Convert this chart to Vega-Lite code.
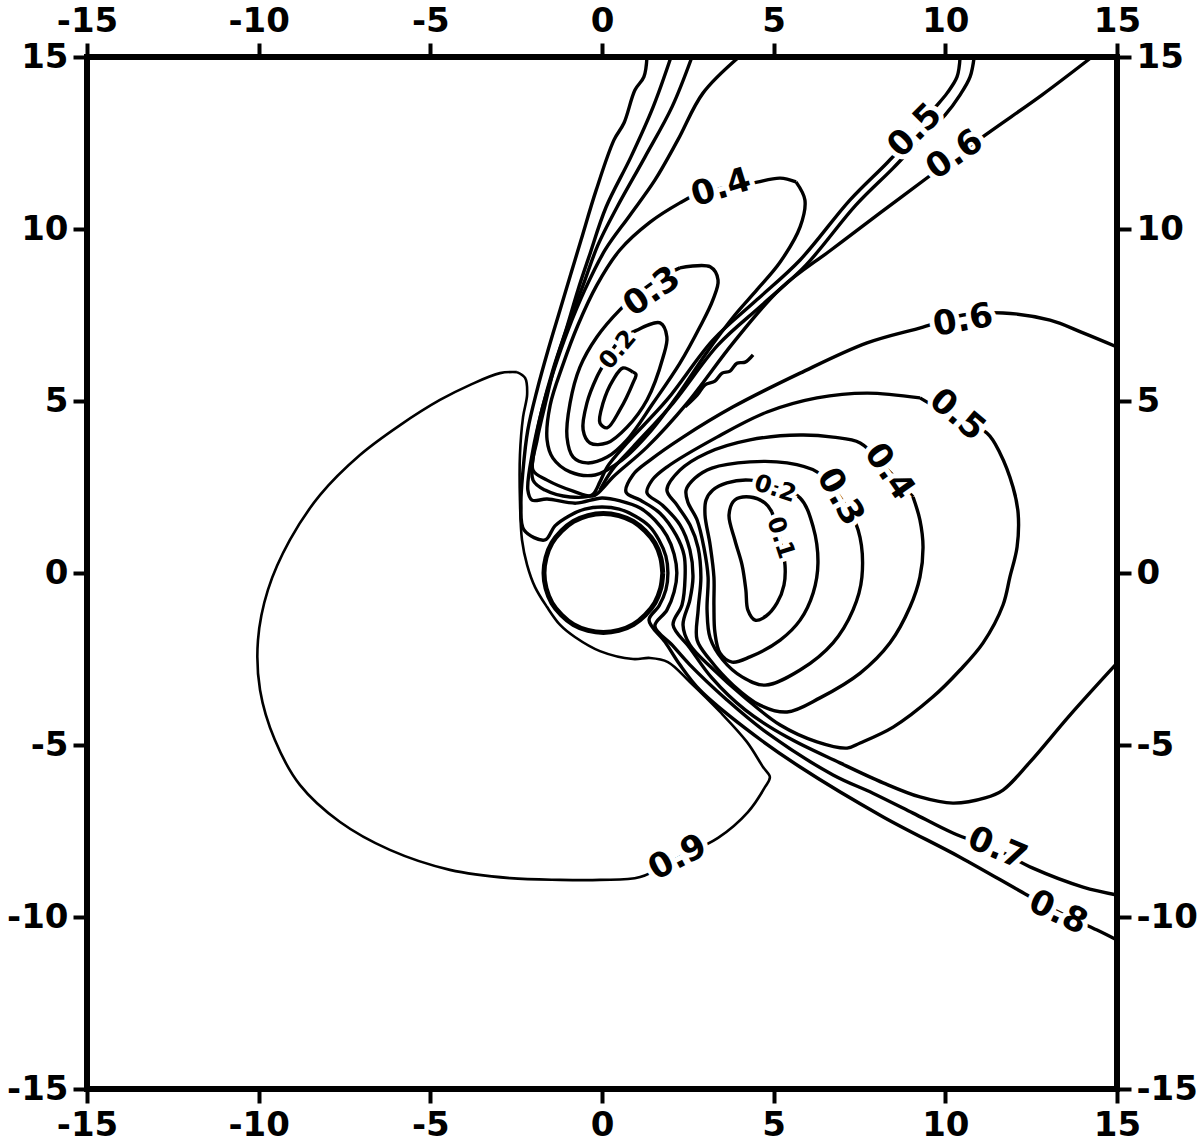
{
"$schema": "https://vega.github.io/schema/vega-lite/v6.json",
"autosize": {"type": "none"},
"width": 1030, "height": 1032,
"padding": {"left": 87, "top": 57, "right": 83, "bottom": 53},
"background": "white",
"datasets": {
"circle": [
{"x":1.77,"y":0},{"x":1.71,"y":0.45},{"x":1.54,"y":0.87},{"x":1.26,"y":1.22},{"x":0.91,"y":1.50},{"x":0.49,"y":1.67},{"x":0.04,"y":1.73},{"x":-0.41,"y":1.67},{"x":-0.83,"y":1.50},{"x":-1.18,"y":1.22},{"x":-1.46,"y":0.87},{"x":-1.63,"y":0.45},{"x":-1.69,"y":0},{"x":-1.63,"y":-0.45},{"x":-1.46,"y":-0.87},{"x":-1.18,"y":-1.22},{"x":-0.83,"y":-1.50},{"x":-0.41,"y":-1.67},{"x":0.04,"y":-1.73},{"x":0.49,"y":-1.67},{"x":0.91,"y":-1.50},{"x":1.26,"y":-1.22},{"x":1.54,"y":-0.87},{"x":1.71,"y":-0.45},{"x":1.77,"y":0}
],
"n9": [
{"x":-2.48,"y":5.84},{"x":-2.97,"y":5.81},{"x":-3.84,"y":5.47},{"x":-4.72,"y":5.03},{"x":-5.88,"y":4.30},{"x":-7.05,"y":3.43},{"x":-8.21,"y":2.27},{"x":-9.09,"y":0.96},{"x":-9.73,"y":-0.49},{"x":-10.02,"y":-1.95},{"x":-9.96,"y":-3.40},{"x":-9.53,"y":-4.85},{"x":-8.80,"y":-6.16},{"x":-7.63,"y":-7.24},{"x":-6.18,"y":-8.05},{"x":-4.43,"y":-8.63},{"x":-2.68,"y":-8.87},{"x":-1.22,"y":-8.92},{"x":-0.06,"y":-8.92},{"x":1.11,"y":-8.84},{"x":2.21,"y":-8.28},{"x":3.38,"y":-7.70},{"x":4.25,"y":-6.95},{"x":4.75,"y":-6.22},{"x":4.89,"y":-5.93},{"x":4.69,"y":-5.64},{"x":4.22,"y":-4.91},{"x":3.44,"y":-4.04},{"x":2.56,"y":-3.17},{"x":1.92,"y":-2.59},{"x":1.40,"y":-2.47},{"x":0.90,"y":-2.50},{"x":-0.06,"y":-2.27},{"x":-0.79,"y":-1.86},{"x":-1.22,"y":-1.51},{"x":-1.60,"y":-0.99},{"x":-1.95,"y":-0.41},{"x":-2.18,"y":0.23},{"x":-2.33,"y":0.96},{"x":-2.39,"y":2.12},{"x":-2.39,"y":3.43},{"x":-2.30,"y":4.53},{"x":-2.18,"y":5.20},{"x":-2.24,"y":5.67},{"x":-2.48,"y":5.84}
],
"contours": [
{"c":"n8","x":1.31,"y":15.0},{"c":"n8","x":1.22,"y":14.42},{"c":"n8","x":0.96,"y":14.04},{"c":"n8","x":0.64,"y":13.08},{"c":"n8","x":0.35,"y":12.59},{"c":"n8","x":-0.17,"y":11.13},{"c":"n8","x":-0.61,"y":9.68},{"c":"n8","x":-0.90,"y":8.72},{"c":"n8","x":-1.22,"y":7.65},{"c":"n8","x":-1.57,"y":6.48},{"c":"n8","x":-1.89,"y":5.32},{"c":"n8","x":-2.16,"y":4.16},{"c":"n8","x":-2.30,"y":2.99},{"c":"n8","x":-2.36,"y":1.98},{"c":"n8","x":-2.27,"y":1.25},{"c":"n8","x":-1.66,"y":0.96},{"c":"n8","x":-1.37,"y":1.37},{"c":"n8","x":-0.96,"y":1.66},{"c":"n8","x":-0.50,"y":1.86},{"c":"n8","x":0.0,"y":1.92},{"c":"n8","x":0.50,"y":1.86},{"c":"n8","x":0.96,"y":1.66},{"c":"n8","x":1.37,"y":1.37},{"c":"n8","x":1.66,"y":0.96},{"c":"n8","x":1.86,"y":0.49},{"c":"n8","x":1.92,"y":0.0},{"c":"n8","x":1.86,"y":-0.49},{"c":"n8","x":1.66,"y":-0.96},{"c":"n8","x":1.37,"y":-1.37},{"c":"n8","x":1.84,"y":-2.01},{"c":"n8","x":2.27,"y":-2.67},{"c":"n8","x":2.85,"y":-3.40},{"c":"n8","x":4.17,"y":-4.51},{"c":"n8","x":5.77,"y":-5.64},{"c":"n8","x":8.19,"y":-7.09},{"c":"n8","x":10.43,"y":-8.26},{"c":"n8","x":12.38,"y":-9.36},{"c":"n8","x":13.34,"y":-9.88},{"c":"n8","x":14.42,"y":-10.38},{"c":"n8","x":15.0,"y":-10.67},
{"c":"n7","x":2.01,"y":15.0},{"c":"n7","x":1.49,"y":13.55},{"c":"n7","x":0.84,"y":12.09},{"c":"n7","x":0.12,"y":10.64},{"c":"n7","x":-0.38,"y":9.19},{"c":"n7","x":-0.70,"y":8.23},{"c":"n7","x":-1.05,"y":7.06},{"c":"n7","x":-1.43,"y":5.90},{"c":"n7","x":-1.75,"y":4.74},{"c":"n7","x":-2.01,"y":3.58},{"c":"n7","x":-2.16,"y":2.41},{"c":"n7","x":-2.04,"y":2.12},{"c":"n7","x":-1.60,"y":2.15},{"c":"n7","x":-0.76,"y":2.03},{"c":"n7","x":0.0,"y":2.18},{"c":"n7","x":0.55,"y":2.09},{"c":"n7","x":1.11,"y":1.89},{"c":"n7","x":1.54,"y":1.54},{"c":"n7","x":1.89,"y":1.08},{"c":"n7","x":2.10,"y":0.55},{"c":"n7","x":2.18,"y":0.0},{"c":"n7","x":2.10,"y":-0.55},{"c":"n7","x":1.89,"y":-1.08},{"c":"n7","x":1.54,"y":-1.54},{"c":"n7","x":2.04,"y":-2.09},{"c":"n7","x":2.56,"y":-2.67},{"c":"n7","x":3.64,"y":-3.69},{"c":"n7","x":4.81,"y":-4.65},{"c":"n7","x":6.73,"y":-5.87},{"c":"n7","x":7.89,"y":-6.40},{"c":"n7","x":9.06,"y":-6.98},{"c":"n7","x":10.22,"y":-7.56},{"c":"n7","x":11.51,"y":-8.05},{"c":"n7","x":12.55,"y":-8.58},{"c":"n7","x":14.01,"y":-9.13},{"c":"n7","x":15.0,"y":-9.36},
{"c":"v6","x":2.62,"y":15.0},{"c":"v6","x":2.04,"y":13.55},{"c":"v6","x":1.25,"y":12.09},{"c":"v6","x":0.44,"y":10.64},{"c":"v6","x":-0.12,"y":9.53},{"c":"v6","x":-0.55,"y":8.37},{"c":"v6","x":-0.99,"y":7.21},{"c":"v6","x":-1.37,"y":6.05},{"c":"v6","x":-1.66,"y":4.88},{"c":"v6","x":-1.89,"y":3.87},{"c":"v6","x":-2.01,"y":2.99},{"c":"v6","x":-1.60,"y":2.70},{"c":"v6","x":-0.84,"y":2.38},{"c":"v6","x":-0.26,"y":2.24},{"c":"v6","x":0.03,"y":2.47},{"c":"v6","x":0.32,"y":2.79},{"c":"v6","x":1.31,"y":3.66},{"c":"v6","x":2.48,"y":4.94},{"c":"v6","x":3.82,"y":6.69},{"c":"v6","x":5.21,"y":8.28},{"c":"v6","x":6.67,"y":9.39},{"c":"v6","x":8.13,"y":10.49},{"c":"v6","x":9.58,"y":11.57},{"c":"v6","x":11.16,"y":12.73},{"c":"v6","x":12.82,"y":13.90},{"c":"v6","x":14.27,"y":15.0},
{"c":"v5","x":3.99,"y":15.0},{"c":"v5","x":2.94,"y":13.95},{"c":"v5","x":2.21,"y":12.59},{"c":"v5","x":1.54,"y":11.42},{"c":"v5","x":0.82,"y":10.41},{"c":"v5","x":0.09,"y":9.39},{"c":"v5","x":-0.50,"y":8.23},{"c":"v5","x":-0.99,"y":7.06},{"c":"v5","x":-1.40,"y":5.90},{"c":"v5","x":-1.75,"y":4.74},{"c":"v5","x":-1.95,"y":3.72},{"c":"v5","x":-2.01,"y":2.70},{"c":"v5","x":-1.66,"y":2.41},{"c":"v5","x":-0.93,"y":2.21},{"c":"v5","x":-0.29,"y":2.27},{"c":"v5","x":-0.06,"y":2.65},{"c":"v5","x":0.15,"y":3.08},{"c":"v5","x":0.73,"y":3.78},{"c":"v5","x":1.89,"y":5.03},{"c":"v5","x":3.23,"y":6.77},{"c":"v5","x":4.51,"y":7.94},{"c":"v5","x":5.77,"y":9.10},{"c":"v5","x":7.22,"y":10.84},{"c":"v5","x":8.30,"y":11.92},{"c":"v5","x":9.06,"y":12.73},{"c":"v5","x":9.64,"y":13.46},{"c":"v5","x":10.05,"y":13.95},{"c":"v5","x":10.34,"y":14.42},{"c":"v5","x":10.43,"y":15.0},
{"c":"b5","x":10.84,"y":15.0},{"c":"b5","x":10.72,"y":14.42},{"c":"b5","x":10.43,"y":13.90},{"c":"b5","x":9.99,"y":13.31},{"c":"b5","x":9.26,"y":12.59},{"c":"b5","x":8.48,"y":11.77},{"c":"b5","x":7.40,"y":10.70},{"c":"b5","x":5.94,"y":8.95},{"c":"b5","x":4.66,"y":7.79},{"c":"b5","x":3.38,"y":6.63},{"c":"b5","x":2.07,"y":4.94},{"c":"b5","x":0.90,"y":3.66},{"c":"b5","x":0.29,"y":2.99},{"c":"b5","x":-0.06,"y":2.41},
{"c":"sq","x":4.40,"y":6.34},{"c":"sq","x":4.17,"y":6.13},{"c":"sq","x":3.93,"y":6.10},{"c":"sq","x":3.73,"y":5.87},{"c":"sq","x":3.50,"y":5.81},{"c":"sq","x":3.29,"y":5.58},{"c":"sq","x":3.00,"y":5.47},{"c":"sq","x":2.77,"y":5.17},{"c":"sq","x":2.42,"y":4.83},
{"c":"u1","x":0.90,"y":5.84},{"c":"u1","x":0.61,"y":5.96},{"c":"u1","x":0.32,"y":5.61},{"c":"u1","x":0.03,"y":4.94},{"c":"u1","x":-0.06,"y":4.36},{"c":"u1","x":0.15,"y":4.22},{"c":"u1","x":0.52,"y":4.74},{"c":"u1","x":0.90,"y":5.52},{"c":"u1","x":0.99,"y":5.78},{"c":"u1","x":0.90,"y":5.84},
{"c":"u2","x":1.02,"y":7.06},{"c":"u2","x":1.69,"y":7.27},{"c":"u2","x":1.89,"y":6.86},{"c":"u2","x":1.78,"y":6.28},{"c":"u2","x":1.31,"y":5.03},{"c":"u2","x":0.73,"y":4.24},{"c":"u2","x":0.15,"y":3.78},{"c":"u2","x":-0.35,"y":3.78},{"c":"u2","x":-0.55,"y":4.16},{"c":"u2","x":-0.44,"y":4.94},{"c":"u2","x":-0.15,"y":5.70},{"c":"u2","x":0.09,"y":6.13},{"c":"u2","x":0.52,"y":6.77},{"c":"u2","x":1.02,"y":7.06},
{"c":"u3","x":2.27,"y":8.87},{"c":"u3","x":3.15,"y":8.90},{"c":"u3","x":3.38,"y":8.52},{"c":"u3","x":3.23,"y":7.94},{"c":"u3","x":2.85,"y":7.15},{"c":"u3","x":2.27,"y":6.10},{"c":"u3","x":1.49,"y":4.94},{"c":"u3","x":0.73,"y":3.87},{"c":"u3","x":0.15,"y":3.37},{"c":"u3","x":-0.44,"y":3.20},{"c":"u3","x":-0.84,"y":3.37},{"c":"u3","x":-1.02,"y":3.95},{"c":"u3","x":-0.93,"y":4.94},{"c":"u3","x":-0.64,"y":5.99},{"c":"u3","x":-0.15,"y":6.86},{"c":"u3","x":0.52,"y":7.65},{"c":"u3","x":1.11,"y":8.17},{"c":"u3","x":1.69,"y":8.58},{"c":"u3","x":2.27,"y":8.87},
{"c":"u4","x":5.65,"y":11.37},{"c":"u4","x":5.91,"y":10.84},{"c":"u4","x":5.77,"y":10.06},{"c":"u4","x":5.19,"y":9.04},{"c":"u4","x":4.51,"y":8.23},{"c":"u4","x":3.87,"y":7.50},{"c":"u4","x":3.00,"y":6.34},{"c":"u4","x":2.21,"y":5.17},{"c":"u4","x":1.40,"y":4.10},{"c":"u4","x":0.58,"y":3.28},{"c":"u4","x":-0.20,"y":2.85},{"c":"u4","x":-0.93,"y":2.94},{"c":"u4","x":-1.43,"y":3.34},{"c":"u4","x":-1.60,"y":3.87},{"c":"u4","x":-1.51,"y":4.88},{"c":"u4","x":-1.14,"y":6.05},{"c":"u4","x":-0.70,"y":7.21},{"c":"u4","x":-0.15,"y":8.37},{"c":"u4","x":0.52,"y":9.39},{"c":"u4","x":1.40,"y":10.20},{"c":"u4","x":2.27,"y":10.76},{"c":"u4","x":2.85,"y":11.05},{"c":"u4","x":3.50,"y":11.19},{"c":"u4","x":4.40,"y":11.34},{"c":"u4","x":5.19,"y":11.48},{"c":"u4","x":5.65,"y":11.37},
{"c":"r6","x":15.0,"y":6.57},{"c":"r6","x":14.01,"y":6.98},{"c":"r6","x":13.05,"y":7.35},{"c":"r6","x":11.68,"y":7.56},{"c":"r6","x":10.52,"y":7.50},{"c":"r6","x":9.35,"y":7.15},{"c":"r6","x":7.72,"y":6.69},{"c":"r6","x":5.77,"y":5.81},{"c":"r6","x":3.82,"y":4.83},{"c":"r6","x":2.36,"y":3.95},{"c":"r6","x":1.40,"y":3.28},{"c":"r6","x":0.90,"y":2.85},{"c":"r6","x":0.70,"y":2.35},{"c":"r6","x":1.11,"y":2.12},{"c":"r6","x":1.69,"y":1.74},{"c":"r6","x":2.16,"y":1.10},{"c":"r6","x":2.39,"y":0.52},{"c":"r6","x":2.42,"y":-0.12},{"c":"r6","x":2.33,"y":-0.93},{"c":"r6","x":2.07,"y":-1.51},{"c":"r6","x":2.56,"y":-2.18},{"c":"r6","x":3.20,"y":-3.05},{"c":"r6","x":4.17,"y":-3.98},{"c":"r6","x":5.39,"y":-4.77},{"c":"r6","x":6.93,"y":-5.52},{"c":"r6","x":8.19,"y":-6.10},{"c":"r6","x":9.26,"y":-6.51},{"c":"r6","x":10.22,"y":-6.69},{"c":"r6","x":11.16,"y":-6.54},{"c":"r6","x":11.68,"y":-6.31},{"c":"r6","x":12.47,"y":-5.49},{"c":"r6","x":13.63,"y":-4.13},{"c":"r6","x":15.0,"y":-2.62},
{"c":"r5","x":9.26,"y":5.09},{"c":"r5","x":10.28,"y":4.51},{"c":"r5","x":11.21,"y":4.07},{"c":"r5","x":11.59,"y":3.49},{"c":"r5","x":11.97,"y":2.50},{"c":"r5","x":12.12,"y":1.74},{"c":"r5","x":12.09,"y":0.76},{"c":"r5","x":11.88,"y":-0.12},{"c":"r5","x":11.68,"y":-0.93},{"c":"r5","x":11.10,"y":-2.03},{"c":"r5","x":10.43,"y":-2.82},{"c":"r5","x":9.64,"y":-3.60},{"c":"r5","x":8.48,"y":-4.48},{"c":"r5","x":7.52,"y":-4.94},{"c":"r5","x":7.14,"y":-5.09},{"c":"r5","x":6.26,"y":-4.91},{"c":"r5","x":5.19,"y":-4.42},{"c":"r5","x":4.17,"y":-3.63},{"c":"r5","x":3.20,"y":-2.76},{"c":"r5","x":2.56,"y":-2.09},{"c":"r5","x":2.36,"y":-1.51},{"c":"r5","x":2.56,"y":-0.78},{"c":"r5","x":2.65,"y":-0.12},{"c":"r5","x":2.56,"y":0.67},{"c":"r5","x":2.27,"y":1.40},{"c":"r5","x":1.75,"y":1.98},{"c":"r5","x":1.31,"y":2.33},{"c":"r5","x":1.46,"y":2.70},{"c":"r5","x":1.89,"y":3.08},{"c":"r5","x":3.35,"y":3.95},{"c":"r5","x":4.81,"y":4.68},{"c":"r5","x":6.26,"y":5.09},{"c":"r5","x":7.72,"y":5.23},{"c":"r5","x":9.26,"y":5.09},
{"c":"r4","x":9.06,"y":2.21},{"c":"r4","x":9.26,"y":1.54},{"c":"r4","x":9.35,"y":0.76},{"c":"r4","x":9.26,"y":-0.12},{"c":"r4","x":8.97,"y":-0.99},{"c":"r4","x":8.39,"y":-2.03},{"c":"r4","x":7.52,"y":-2.91},{"c":"r4","x":6.35,"y":-3.63},{"c":"r4","x":5.39,"y":-4.04},{"c":"r4","x":4.60,"y":-3.84},{"c":"r4","x":3.82,"y":-3.26},{"c":"r4","x":3.15,"y":-2.53},{"c":"r4","x":2.77,"y":-1.95},{"c":"r4","x":2.80,"y":-1.08},{"c":"r4","x":2.88,"y":-0.12},{"c":"r4","x":2.80,"y":0.73},{"c":"r4","x":2.56,"y":1.40},{"c":"r4","x":2.18,"y":1.98},{"c":"r4","x":1.89,"y":2.41},{"c":"r4","x":2.27,"y":2.99},{"c":"r4","x":3.06,"y":3.49},{"c":"r4","x":4.31,"y":3.87},{"c":"r4","x":5.77,"y":4.01},{"c":"r4","x":6.73,"y":3.95},{"c":"r4","x":7.52,"y":3.78},{"c":"r4","x":8.33,"y":2.99},{"c":"r4","x":9.06,"y":2.21},
{"c":"r3","x":6.93,"y":2.21},{"c":"r3","x":7.46,"y":1.25},{"c":"r3","x":7.57,"y":-0.12},{"c":"r3","x":7.31,"y":-1.08},{"c":"r3","x":6.73,"y":-2.03},{"c":"r3","x":5.77,"y":-2.82},{"c":"r3","x":4.75,"y":-3.26},{"c":"r3","x":4.08,"y":-3.02},{"c":"r3","x":3.52,"y":-2.53},{"c":"r3","x":3.15,"y":-1.89},{"c":"r3","x":3.06,"y":-1.08},{"c":"r3","x":3.09,"y":-0.12},{"c":"r3","x":2.97,"y":0.73},{"c":"r3","x":2.77,"y":1.54},{"c":"r3","x":2.50,"y":2.06},{"c":"r3","x":2.45,"y":2.41},{"c":"r3","x":2.71,"y":2.76},{"c":"r3","x":3.20,"y":3.05},{"c":"r3","x":4.31,"y":3.23},{"c":"r3","x":5.39,"y":3.20},{"c":"r3","x":6.26,"y":2.94},{"c":"r3","x":6.93,"y":2.21},
{"c":"r2","x":5.04,"y":2.50},{"c":"r2","x":5.77,"y":2.18},{"c":"r2","x":6.15,"y":1.34},{"c":"r2","x":6.29,"y":0.29},{"c":"r2","x":6.15,"y":-0.58},{"c":"r2","x":5.77,"y":-1.37},{"c":"r2","x":5.19,"y":-1.95},{"c":"r2","x":4.31,"y":-2.44},{"c":"r2","x":3.79,"y":-2.59},{"c":"r2","x":3.44,"y":-2.33},{"c":"r2","x":3.29,"y":-1.74},{"c":"r2","x":3.26,"y":-0.93},{"c":"r2","x":3.26,"y":-0.12},{"c":"r2","x":3.15,"y":0.81},{"c":"r2","x":3.00,"y":1.69},{"c":"r2","x":3.03,"y":2.12},{"c":"r2","x":3.23,"y":2.41},{"c":"r2","x":3.64,"y":2.62},{"c":"r2","x":4.31,"y":2.70},{"c":"r2","x":5.04,"y":2.50},
{"c":"r1","x":4.95,"y":1.77},{"c":"r1","x":5.19,"y":0.96},{"c":"r1","x":5.33,"y":0.23},{"c":"r1","x":5.30,"y":-0.35},{"c":"r1","x":5.10,"y":-0.87},{"c":"r1","x":4.78,"y":-1.25},{"c":"r1","x":4.46,"y":-1.37},{"c":"r1","x":4.25,"y":-1.08},{"c":"r1","x":4.19,"y":-0.49},{"c":"r1","x":4.08,"y":0.23},{"c":"r1","x":3.87,"y":0.96},{"c":"r1","x":3.70,"y":1.69},{"c":"r1","x":3.87,"y":2.12},{"c":"r1","x":4.31,"y":2.21},{"c":"r1","x":4.75,"y":2.03},{"c":"r1","x":4.95,"y":1.77}
],
"labels": [
{"t":"0.9","x":2.21,"y":-8.28,"a":-28},
{"t":"0.8","x":13.28,"y":-9.88,"a":25},
{"t":"0.7","x":11.51,"y":-8.02,"a":23},
{"t":"0.6","x":10.52,"y":7.33,"a":-10},
{"t":"0.5","x":10.34,"y":4.59,"a":40},
{"t":"0.4","x":8.36,"y":2.94,"a":55},
{"t":"0.3","x":6.93,"y":2.21,"a":60},
{"t":"0.4","x":3.47,"y":11.19,"a":-17},
{"t":"0.3","x":1.46,"y":8.17,"a":-35},
{"t":"0.5","x":9.12,"y":12.85,"a":-45},
{"t":"0.6","x":10.28,"y":12.15,"a":-35}
],
"small": [
{"t":"0.2","x":5.04,"y":2.44,"a":18},
{"t":"0.1","x":5.19,"y":1.02,"a":72},
{"t":"0.2","x":0.47,"y":6.48,"a":-50}
]
},
"layer": [
{"data": {"name": "circle"},
 "mark": {"type": "line", "color": "black", "strokeWidth": 5, "strokeJoin": "round", "interpolate": "catmull-rom"},
 "encoding": {
  "x": {"field": "x", "type": "quantitative", "scale": {"domain": [-15, 15], "nice": false, "zero": false}, "axis": {"orient": "bottom", "values": [-15, -10, -5, 0, 5, 10, 15]}},
  "y": {"field": "y", "type": "quantitative", "scale": {"domain": [-15, 15], "nice": false, "zero": false}, "axis": {"orient": "left", "values": [-15, -10, -5, 0, 5, 10, 15]}},
  "order": {"value": null}}},
{"data": {"name": "n9"},
 "mark": {"type": "line", "color": "black", "strokeWidth": 2.6, "strokeJoin": "round", "interpolate": "catmull-rom"},
 "encoding": {
  "x": {"field": "x", "type": "quantitative", "axis": {"orient": "top", "values": [-15, -10, -5, 0, 5, 10, 15]}},
  "y": {"field": "y", "type": "quantitative", "axis": {"orient": "right", "values": [-15, -10, -5, 0, 5, 10, 15]}},
  "order": {"value": null}}},
{"data": {"name": "contours"},
 "mark": {"type": "line", "color": "black", "strokeWidth": 3.4, "strokeJoin": "round", "interpolate": "catmull-rom"},
 "encoding": {
  "x": {"field": "x", "type": "quantitative", "axis": null},
  "y": {"field": "y", "type": "quantitative", "axis": null},
  "detail": {"field": "c"},
  "order": {"value": null}}},
{"data": {"name": "labels"},
 "mark": {"type": "text", "font": "DejaVu Sans", "fontWeight": "bold", "fontSize": 34, "fill": "white", "stroke": "white", "strokeWidth": 10, "align": "center", "baseline": "middle"},
 "encoding": {
  "x": {"field": "x", "type": "quantitative", "axis": null},
  "y": {"field": "y", "type": "quantitative", "axis": null},
  "text": {"field": "t"},
  "angle": {"field": "a", "type": "quantitative", "scale": null}}},
{"data": {"name": "small"},
 "mark": {"type": "text", "font": "DejaVu Sans", "fontWeight": "bold", "fontSize": 24, "fill": "white", "stroke": "white", "strokeWidth": 8, "align": "center", "baseline": "middle"},
 "encoding": {
  "x": {"field": "x", "type": "quantitative", "axis": null},
  "y": {"field": "y", "type": "quantitative", "axis": null},
  "text": {"field": "t"},
  "angle": {"field": "a", "type": "quantitative", "scale": null}}},
{"data": {"name": "labels"},
 "mark": {"type": "text", "font": "DejaVu Sans", "fontWeight": "bold", "fontSize": 34, "color": "black", "align": "center", "baseline": "middle"},
 "encoding": {
  "x": {"field": "x", "type": "quantitative", "axis": null},
  "y": {"field": "y", "type": "quantitative", "axis": null},
  "text": {"field": "t"},
  "angle": {"field": "a", "type": "quantitative", "scale": null}}},
{"data": {"name": "small"},
 "mark": {"type": "text", "font": "DejaVu Sans", "fontWeight": "bold", "fontSize": 24, "color": "black", "align": "center", "baseline": "middle"},
 "encoding": {
  "x": {"field": "x", "type": "quantitative", "axis": null},
  "y": {"field": "y", "type": "quantitative", "axis": null},
  "text": {"field": "t"},
  "angle": {"field": "a", "type": "quantitative", "scale": null}}}
],
"resolve": {"axis": {"x": "independent", "y": "independent"}},
"config": {
 "view": {"stroke": "black", "strokeWidth": 6},
 "axis": {"grid": false, "domain": false, "title": null, "ticks": true, "tickColor": "black", "tickWidth": 4, "tickSize": 14,
  "labelFont": "DejaVu Sans", "labelFontWeight": "bold", "labelFontSize": 34, "labelColor": "black", "labelPadding": 5,
  "labelFlush": false, "labelOverlap": false, "labelBound": false,
  "labelExpr": "datum.value < 0 ? '-' + abs(datum.value) : '' + datum.value"}
}
}
